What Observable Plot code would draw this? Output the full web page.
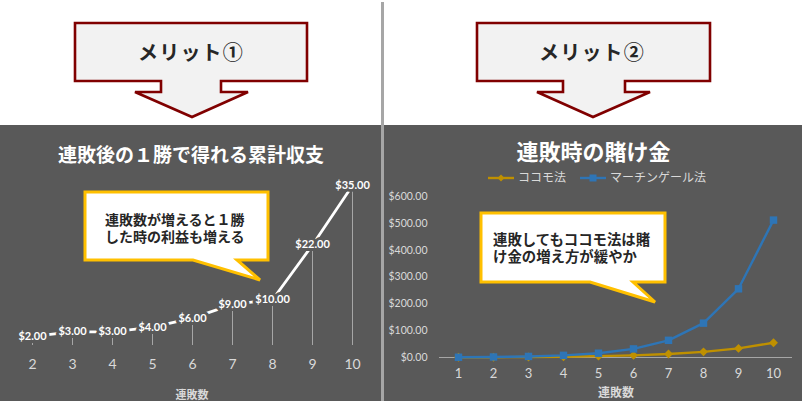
<!DOCTYPE html>
<html><head><meta charset="utf-8">
<script src="https://cdn.jsdelivr.net/npm/d3@7"></script>
<script src="https://cdn.jsdelivr.net/npm/@observablehq/plot@0.6"></script>
<style>
body{margin:0;background:#fff;}
#root{position:relative;width:802px;height:401px;overflow:hidden;background:#fff;font-family:"Noto Sans CJK JP",sans-serif;}
.dark{position:absolute;left:0;top:125px;width:802px;height:276px;background:#595959;}
.divider{position:absolute;left:381px;top:2px;width:3px;height:399px;background:#a6a6a6;}
.abs{position:absolute;}
.title{position:absolute;color:#fff;font-weight:bold;text-align:center;white-space:nowrap;}
.p1 [aria-label="x-axis label"] text,.p2 [aria-label="x-axis label"] text{font-family:"Noto Sans CJK JP",sans-serif;font-weight:bold;}
.p1 [aria-label="x-axis label"] text{font-size:11px;}
.p2 [aria-label="x-axis label"] text{font-size:12px;}
</style></head><body><div id="root">
<div class="dark"></div>
<div class="divider"></div>
<div id="left" class="abs" style="left:0;top:125px;"></div>
<div id="right" class="abs" style="left:385px;top:125px;"></div>
<svg id="overlay" class="abs" style="left:0;top:0;" width="802" height="401"></svg>
<div class="title" style="left:0;width:382px;top:141px;font-size:19px;line-height:26px;">連敗後の１勝で得れる累計収支</div>
<div class="title" style="left:385px;width:417px;top:136px;font-size:22px;line-height:28px;">連敗時の賭け金</div>
<svg id="legend" class="abs" style="left:480px;top:168px;" width="240" height="20"></svg>
</div>
<script>
// ---- data ----
const streakLeft = [2, 3, 4, 5, 6, 7, 8, 9, 10];
const profitLeft = [2, 3, 3, 4, 6, 9, 10, 22, 35];
const streakRight = [1, 2, 3, 4, 5, 6, 7, 8, 9, 10];
const cocomoBets = [1, 1, 2, 3, 5, 8, 13, 21, 34, 55];
const martingaleBets = [1, 2, 4, 8, 16, 32, 64, 128, 256, 512];
const yTicksRight = [0, 100, 200, 300, 400, 500, 600];
const seriesNames = ["ココモ法", "マーチンゲール法"];
const seriesColors = ["#bf9000", "#2e75b6"];
const bannerTexts = ["メリット①", "メリット②"];
const calloutLeft = ["連敗数が増えると１勝", "した時の利益も増える"];
const calloutRight = ["連敗してもココモ法は賭", "け金の増え方が緩やか"];
const axisTitle = "連敗数";

const money = v => "$" + v.toFixed(2);

// ---- left chart ----
const leftData = streakLeft.map((n, i) => ({n, v: profitLeft[i]}));
const p1 = Plot.plot({
  width: 382, height: 276,
  marginLeft: 31, marginRight: 30, marginTop: 60, marginBottom: 56,
  className: "p1",
  style: {background: "transparent", color: "#d9d9d9", fontFamily: "Lato, sans-serif", overflow: "visible"},
  x: {type: "point", domain: streakLeft, padding: 0},
  y: {domain: [0, 35], axis: null},
  marks: [
    Plot.ruleX(leftData, {x: "n", y1: 0, y2: "v", stroke: "#a6a6a6", strokeWidth: 1}),
    Plot.line(leftData, {x: "n", y: "v", stroke: "#ffffff", strokeWidth: 2.8}),
    Plot.text(leftData, {x: "n", y: "v", dy: 0, text: d => money(d.v), fill: "#ffffff", stroke: "#595959", strokeWidth: 6, strokeLinejoin: "round", fontWeight: "bold", fontSize: 11}),
    Plot.axisX({tickSize: 0, tickPadding: 14, fontSize: 14, color: "#d9d9d9", label: null}),
    Plot.axisX({ticks: [], tickSize: 0, color: "#d9d9d9", label: axisTitle, labelAnchor: "center", labelOffset: 53, dx: 6})
  ]
});
document.getElementById("left").append(p1);

// ---- right chart ----
const gold = streakRight.map((n, i) => ({n, v: cocomoBets[i]}));
const blue = streakRight.map((n, i) => ({n, v: martingaleBets[i]}));
const p2 = Plot.plot({
  width: 417, height: 276,
  marginLeft: 54, marginRight: 10, marginTop: 71, marginBottom: 44,
  className: "p2",
  style: {background: "transparent", color: "#d9d9d9", fontFamily: "Lato, sans-serif", overflow: "visible"},
  x: {type: "point", domain: streakRight, padding: 0.5},
  y: {domain: [0, 600]},
  marks: [
    Plot.axisY({ticks: yTicksRight, tickSize: 0, tickPadding: 12, tickFormat: money, fontSize: 10.5, color: "#d9d9d9", label: null}),
    Plot.axisY({ticks: [], tickSize: 0, line: true, color: "#a6a6a6", label: null}),
    Plot.ruleY([0], {stroke: "#a6a6a6", strokeWidth: 1.2}),
    Plot.axisX({tickSize: 0, tickPadding: 11, fontSize: 13, color: "#d9d9d9", label: null}),
    Plot.axisX({ticks: [], tickSize: 0, color: "#d9d9d9", label: axisTitle, labelAnchor: "center", labelOffset: 39, dx: -5}),
    Plot.line(gold, {x: "n", y: "v", stroke: seriesColors[0], strokeWidth: 2.4}),
    Plot.dot(gold, {x: "n", y: "v", symbol: "diamond2", r: 4, fill: seriesColors[0]}),
    Plot.line(blue, {x: "n", y: "v", stroke: seriesColors[1], strokeWidth: 2.4}),
    Plot.dot(blue, {x: "n", y: "v", symbol: "square", r: 4.2, fill: seriesColors[1]})
  ]
});
document.getElementById("right").append(p2);

// ---- legend ----
const lg = d3.select("#legend");
const legendX = [8, 100];
seriesNames.forEach((name, i) => {
  const g = lg.append("g").attr("transform", `translate(${legendX[i]},10)`);
  g.append("line").attr("x1", 0).attr("x2", 26).attr("stroke", seriesColors[i]).attr("stroke-width", 2.4);
  if (i === 0) g.append("path").attr("d", "M13,-3.5L16.5,0L13,3.5L9.5,0Z").attr("fill", seriesColors[i]);
  else g.append("rect").attr("x", 9.5).attr("y", -3.5).attr("width", 7).attr("height", 7).attr("fill", seriesColors[i]);
  g.append("text").attr("x", 30).attr("y", 0).attr("dy", "0.35em").attr("fill", "#d9d9d9")
    .attr("font-size", 12).attr("font-family", "Noto Sans CJK JP, sans-serif").text(name);
});

// ---- banners & callouts ----
const ov = d3.select("#overlay");
const banners = [
  {d: "M75,23H307V81H221V92H248L192,117L135,92H161V81H75Z", cx: 191},
  {d: "M477,23H710V81H625V92H650L593,117L537,92H563V81H477Z", cx: 592}
];
banners.forEach((b, i) => {
  ov.append("path").attr("d", b.d).attr("fill", "#f2f2f2").attr("stroke", "#800000").attr("stroke-width", 2.6);
  ov.append("text").attr("x", b.cx).attr("y", 53).attr("dy", "0.36em").attr("text-anchor", "middle")
    .attr("font-size", 20).attr("font-weight", "bold").attr("letter-spacing", 1.2).attr("fill", "#262626")
    .attr("font-family", "Noto Sans CJK JP, sans-serif").text(bannerTexts[i]);
});
const callouts = [
  {d: "M85,192H268V260H237L260,280L193,260H85Z", x: 105, y: 220, lines: calloutLeft, fs: 14},
  {d: "M481,213H665V282H633L655,302L590,282H481Z", x: 493, y: 240, lines: calloutRight, fs: 14.4}
];
callouts.forEach(c => {
  ov.append("path").attr("d", c.d).attr("fill", "#ffffff").attr("stroke", "#ffc000").attr("stroke-width", 3).attr("stroke-linejoin", "miter");
  c.lines.forEach((t, j) => {
    ov.append("text").attr("x", c.x).attr("y", c.y + j * 17).attr("dy", "0.36em")
      .attr("font-size", c.fs).attr("font-weight", "bold").attr("fill", "#262626")
      .attr("font-family", "Noto Sans CJK JP, sans-serif").text(t);
  });
});
</script>
</body></html>
